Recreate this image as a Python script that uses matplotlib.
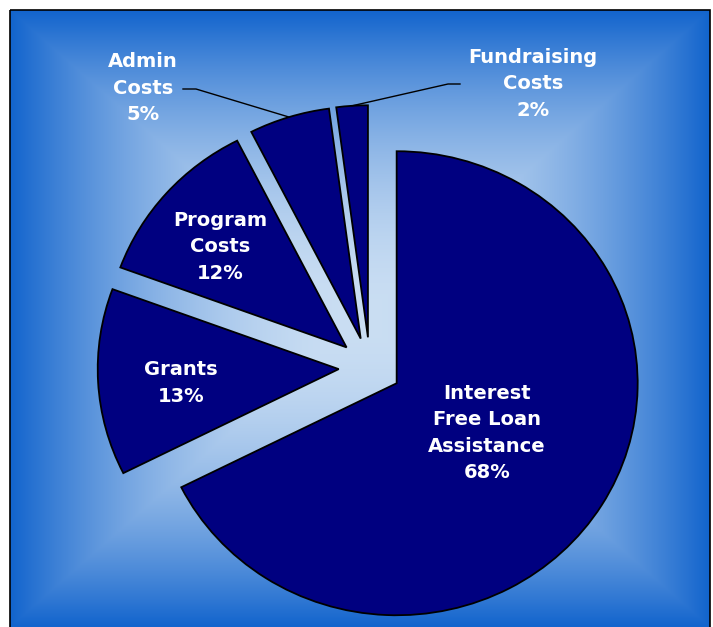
import numpy as np
import matplotlib
matplotlib.use("Agg")
import matplotlib.pyplot as plt
from matplotlib.patches import Rectangle

categories = ["Interest\nFree Loan\nAssistance", "Grants", "Program\nCosts", "Admin\nCosts", "Fundraising\nCosts"]
shares = [67.6, 13.0, 11.9, 5.4, 2.1]          # slice sizes
shown_pct = [round(s) for s in shares]          # 68, 13, 12, 5, 2 as printed

W, H = 713, 627
plt.rcParams['font.family'] = ['DejaVu Sans']

fig = plt.figure(figsize=(W / 100, H / 100), dpi=100)
fig.patch.set_facecolor('white')

# background: plot area with a "from centre" gradient
bg = fig.add_axes([0, 0, 1, 1])
bg.set_xlim(0, W)
bg.set_ylim(H, 0)
bg.set_axis_off()
x0, x1, y0, y1 = 10, 710, 10, 627
xs = np.linspace(x0, x1, 500)
ys = np.linspace(y0, y1, 500)
gx, gy = np.meshgrid(xs, ys)
cx, cy = (x0 + x1) / 2, (y0 + y1) / 2
t = np.maximum(np.abs(gx - cx) / ((x1 - x0) / 2), np.abs(gy - cy) / ((y1 - y0) / 2))
f = 1 - t ** 1.9
light = np.array([202, 222, 243]) / 255
dark = np.array([18, 100, 205]) / 255
img = dark[None, None, :] + (light - dark)[None, None, :] * f[..., None]
bg.imshow(img, extent=[x0, x1, y1, y0], aspect='auto', interpolation='bilinear')
bg.add_patch(Rectangle((x0, y0), x1 - x0, y1 - y0 + 5, fill=False, edgecolor='black', linewidth=1.2))

# pie axes, mapped so one radius is 241 px wide and 232 px tall
ax = fig.add_axes([0, 0, 1, 1])
ax.patch.set_alpha(0)
pcx, pcy, rx, ry = 370.0, 367.4, 241, 232

def px(x, y):
    return (x - pcx) / rx, (pcy - y) / ry

wedges, _ = ax.pie(shares, explode=[0.13] * len(shares), startangle=90, counterclock=False,
                   colors=['#000080'] * len(shares),
                   wedgeprops=dict(edgecolor='black', linewidth=1.3))
ax.set_aspect('auto')
ax.set_xlim(px(0, 0)[0], px(W, 0)[0])
ax.set_ylim(px(0, H)[1], px(0, 0)[1])
ax.set_axis_off()

label_pos = [(487, 433), (181, 383), (220, 247), (143, 88), (533, 84)]
for name, val, (lx, ly) in zip(categories, shown_pct, label_pos):
    ax.text(*px(lx, ly), f"{name}\n{val}%", ha='center', va='center', color='white',
            fontsize=14, fontweight='bold', linespacing=1.5)

# leader lines for the two thin slices
elbows = {3: [(183, 89), (196, 89)], 4: [(460, 84), (448, 84)]}
for i, pts in elbows.items():
    w = wedges[i]
    a = np.deg2rad((w.theta1 + w.theta2) / 2)
    ex, ey = w.center[0] + w.r * np.cos(a), w.center[1] + w.r * np.sin(a)
    lx = [px(*p)[0] for p in pts] + [ex]
    ly = [px(*p)[1] for p in pts] + [ey]
    ax.plot(lx, ly, color='black', linewidth=1.0)

fig.savefig("out.png", dpi=100, facecolor='white')
